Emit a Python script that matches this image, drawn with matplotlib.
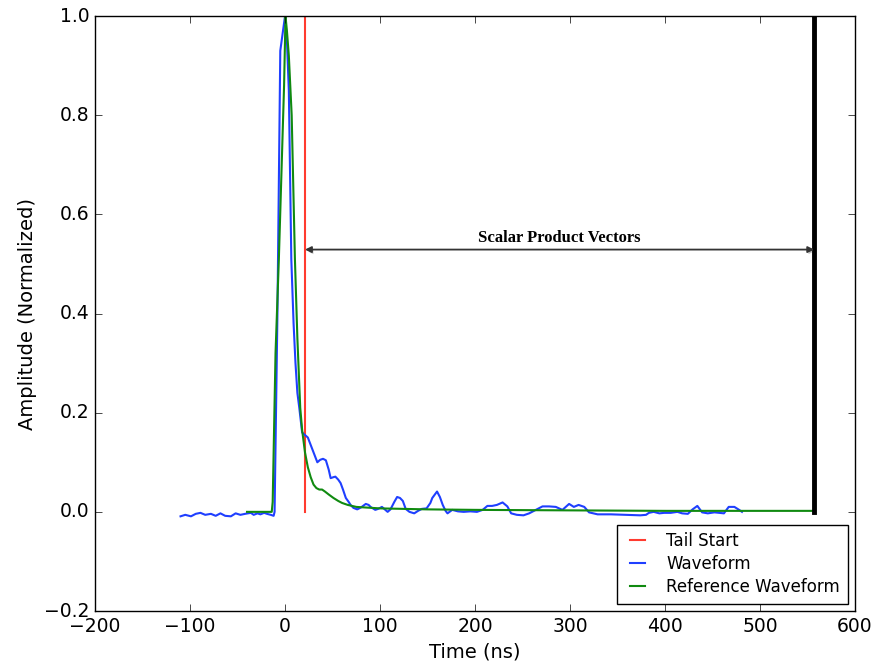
import numpy as np
import matplotlib
matplotlib.use("Agg")
import matplotlib.pyplot as plt
import matplotlib.patheffects as pe

# ── Data ───────────────────────────────────────────────────────────────
wave_t = [-110, -105, -99, -94, -89, -84, -78, -73, -68, -63, -57, -52, -47, -42,
          -36, -33, -29, -26, -22, -19, -15, -12, -11, -8, -5, 0, 2, 4, 6.6, 9, 11,
          13, 15, 18, 21, 24, 27, 30, 34, 37, 40, 43, 46, 48, 51, 53, 56, 58.5, 61,
          64, 67, 69, 72, 76, 80, 85, 88, 90, 95, 98, 102, 105, 108, 111, 115, 118,
          121, 124, 127, 131, 136, 140, 144, 149, 153, 155, 158, 160, 163, 166, 169,
          171, 176, 182, 188, 195, 202, 208, 213, 218, 223, 229, 234, 238, 244, 251,
          257, 264, 271, 278, 285, 292, 299, 304, 309, 315, 320, 329, 343, 360, 374,
          380, 383, 388, 394, 399, 406, 413, 418, 424, 429, 434, 439, 445, 452, 457,
          462, 467, 473, 478, 481]
wave_a = [-0.009, -0.006, -0.009, -0.004, -0.002, -0.006, -0.004, -0.008, -0.003,
          -0.008, -0.009, -0.003, -0.006, -0.004, -0.002, -0.006, -0.003, -0.005,
          -0.002, -0.004, -0.006, -0.008, 0.0, 0.40, 0.93, 1.0, 0.95, 0.85, 0.51,
          0.38, 0.30, 0.24, 0.21, 0.16, 0.155, 0.15, 0.135, 0.12, 0.10, 0.105, 0.107,
          0.104, 0.085, 0.068, 0.07, 0.071, 0.065, 0.058, 0.045, 0.028, 0.02, 0.014,
          0.008, 0.005, 0.009, 0.016, 0.014, 0.01, 0.004, 0.006, 0.01, 0.005, 0.0,
          0.005, 0.02, 0.03, 0.028, 0.022, 0.006, 0.0, -0.003, 0.002, 0.006, 0.007,
          0.018, 0.028, 0.036, 0.041, 0.03, 0.014, 0.002, -0.003, 0.004, 0.001, 0.0,
          0.001, 0.0, 0.004, 0.012, 0.012, 0.014, 0.019, 0.011, -0.003, -0.006,
          -0.007, -0.003, 0.004, 0.011, 0.011, 0.01, 0.004, 0.016, 0.01, 0.014, 0.01,
          -0.001, -0.005, -0.005, -0.006, -0.007, -0.006, -0.002, 0.0, -0.003,
          -0.002, -0.002, 0.0, -0.003, -0.004, 0.005, 0.012, -0.001, -0.003, -0.001,
          -0.002, -0.003, 0.01, 0.01, 0.004, 0.0]

ref_t = [-40, -14, -13, -10, -6.5, -1, 0.5, 2, 4, 7, 10.4, 13, 16, 18, 21, 24, 27,
         30, 33, 36, 39, 42, 46, 51, 56, 60, 66, 75, 83, 100, 150, 200, 300, 400, 557]
ref_a = [0.0, 0.0, 0.02, 0.32, 0.51, 0.86, 1.0, 0.97, 0.92, 0.80, 0.51, 0.35, 0.21,
         0.165, 0.12, 0.09, 0.07, 0.055, 0.048, 0.045, 0.045, 0.041, 0.035, 0.028,
         0.022, 0.018, 0.014, 0.01, 0.009, 0.007, 0.005, 0.004, 0.003, 0.002, 0.002]

TAIL_START = 21
VEC_END = 557

# ── Plot ───────────────────────────────────────────────────────────────
plt.style.use("classic")
plt.rcParams["font.family"] = ["DejaVu Sans"]

fig = plt.figure(figsize=(8.75, 6.63), dpi=100, facecolor="white")
ax = fig.add_axes([0.1086, 0.0784, 0.8686, 0.8974])

ax.plot([TAIL_START, TAIL_START], [0, 1], color="#ff3b2f", lw=1.5, label="Tail Start")
ax.plot(wave_t, wave_a, color="#1f3fff", lw=1.5, label="Waveform")
ax.plot(ref_t, ref_a, color="#108a10", lw=1.5, label="Reference Waveform")
ax.plot([VEC_END, VEC_END], [0, 1], color="black", lw=3.5)

ax.annotate("", xy=(TAIL_START, 0.529), xytext=(VEC_END, 0.529),
            arrowprops=dict(arrowstyle="<|-|>", color="#333333", lw=1.3,
                            mutation_scale=9, shrinkA=0, shrinkB=0,
                            path_effects=[pe.withSimplePatchShadow(offset=(1, -1.5),
                                                                   alpha=0.25)]))
ax.text((TAIL_START + VEC_END) / 2, 0.552, "Scalar Product Vectors",
        family="Liberation Serif", fontweight="bold", fontsize=12,
        ha="center", va="center")

ax.set_xlim(-200, 600)
ax.set_ylim(-0.2, 1.0)
ax.set_xticks(np.arange(-200, 601, 100))
ax.set_yticks(np.arange(-0.2, 1.01, 0.2))
ax.tick_params(labelsize=13.5, direction="in", length=5)
ax.set_xlabel("Time (ns)", fontsize=14)
ax.set_ylabel("Amplitude (Normalized)", fontsize=14)

leg = ax.legend(loc="lower right", fontsize=12, handlelength=1.5,
                handletextpad=1.0, borderpad=0.45, labelspacing=0.3,
                fancybox=False, borderaxespad=0.45)
leg.get_frame().set_edgecolor("black")

fig.savefig("out.png", dpi=100, facecolor="white")
